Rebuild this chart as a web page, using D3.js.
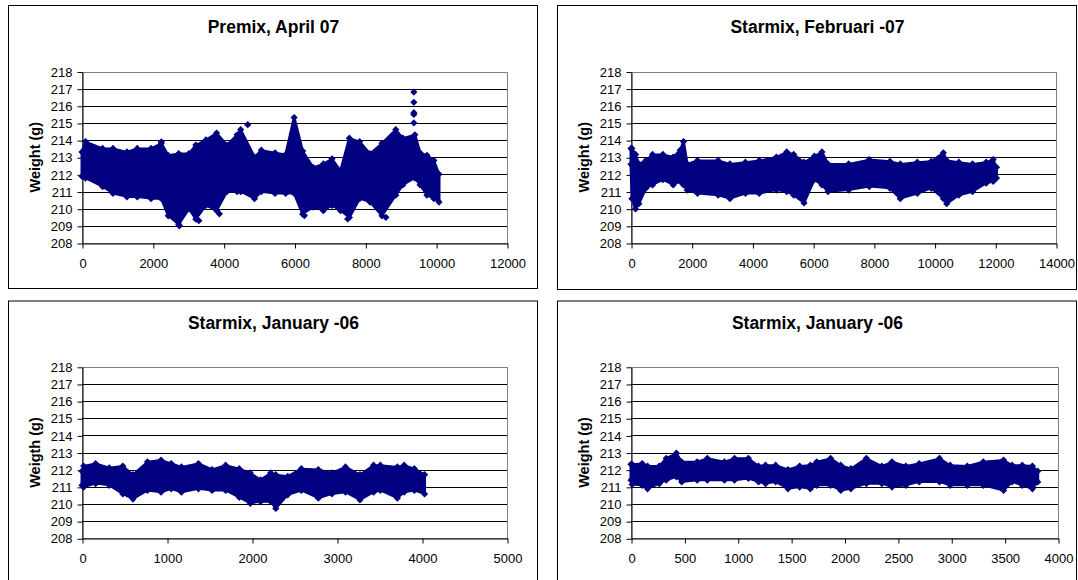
<!DOCTYPE html>
<html>
<head>
<meta charset="utf-8">
<script src="https://cdn.jsdelivr.net/npm/d3@7"></script>
<style>
  html, body { margin: 0; padding: 0; background: #fff; }
  svg { display: block; }
  text { font-family: Arial, "Liberation Sans", sans-serif; }
</style>
</head>
<body>
<svg id="chart" width="1078" height="580"></svg>
<script>
// ---------- DATA ----------
const yTicks = [208, 209, 210, 211, 212, 213, 214, 215, 216, 217, 218];

const titles = ["Premix, April 07", "Starmix, Februari -07", "Starmix, January -06", "Starmix, January -06"];
const yLabels = ["Weight (g)", "Weight (g)", "Weigth (g)", "Weight (g)"];
const xTicks1 = [0, 2000, 4000, 6000, 8000, 10000, 12000];
const xTicks2 = [0, 2000, 4000, 6000, 8000, 10000, 12000, 14000];
const xTicks3 = [0, 1000, 2000, 3000, 4000, 5000];
const xTicks4 = [0, 500, 1000, 1500, 2000, 2500, 3000, 3500, 4000];

// Panel 1: envelope of the scatter cloud (sample index, highest weight, lowest weight)
const p1X    = [0, 100, 580, 875, 1270, 1560, 1950, 2240, 2435, 2730, 3020, 3215, 3500, 3800, 4090, 4380, 4480, 4870, 5065, 5450, 5750, 5990, 6230, 6525, 6815, 7060, 7300, 7550, 7840, 8130, 8470, 8860, 9060, 9400, 9545, 9740, 9935, 10080];
const p1High = [213.4, 214.0, 213.6, 213.6, 213.4, 213.6, 213.6, 213.9, 213.2, 213.3, 213.3, 213.8, 214.1, 214.5, 213.8, 214.4, 214.7, 213.1, 213.5, 213.35, 213.25, 215.4, 213.45, 212.5, 212.7, 213.0, 212.3, 214.2, 214.0, 213.3, 213.9, 214.7, 214.2, 214.4, 213.35, 213.2, 212.9, 212.1];
const p1Low  = [211.8, 211.7, 211.2, 210.8, 210.6, 210.6, 210.5, 210.5, 209.5, 209.0, 209.9, 209.3, 210.1, 209.8, 210.9, 210.9, 210.9, 210.5, 210.9, 210.8, 210.8, 210.8, 209.6, 210.0, 209.8, 210.1, 209.8, 209.4, 210.5, 210.3, 209.5, 210.7, 211.3, 211.7, 211.3, 210.7, 210.5, 210.3];
const p1OutX = [9370, 9370, 9370, 9370, 9370, 4680, 2240, 2750, 3300, 3880, 6280, 7500, 8580];
const p1OutY = [216.8, 216.2, 215.6, 215.5, 215.0, 214.9, 213.9, 209.0, 209.3, 209.7, 209.6, 209.4, 209.5];

// Panel 2
const p2X    = [0, 30, 150, 260, 490, 710, 1050, 1390, 1620, 1730, 1850, 2190, 2870, 3260, 3770, 4225, 4790, 5130, 5360, 5700, 6040, 6290, 6490, 7170, 7850, 8530, 8870, 9430, 9890, 10290, 10400, 10800, 11250, 11700, 11930, 12040];
const p2High = [213.6, 213.6, 213.25, 212.7, 212.9, 213.25, 213.25, 213.1, 213.5, 214.0, 212.7, 212.9, 212.9, 212.7, 212.8, 212.9, 213.1, 213.4, 213.25, 212.8, 213.15, 213.4, 212.7, 212.7, 212.95, 212.85, 212.7, 212.8, 212.85, 213.35, 212.9, 212.8, 212.7, 212.8, 212.95, 212.5];
const p2Low  = [212.5, 210.5, 209.9, 210.2, 211.1, 211.3, 211.6, 211.3, 211.5, 211.3, 211.0, 210.8, 210.7, 210.5, 210.8, 210.8, 211.0, 210.9, 210.7, 210.25, 211.6, 211.3, 210.9, 211.0, 211.2, 211.1, 210.5, 210.8, 211.1, 210.5, 210.2, 210.7, 210.9, 211.4, 211.5, 211.7];

// Panel 3
const p3X    = [0, 20, 160, 320, 480, 600, 770, 930, 1050, 1170, 1370, 1530, 1690, 1850, 1980, 2100, 2220, 2280, 2420, 2580, 2780, 2940, 3100, 3270, 3430, 3510, 3710, 3790, 3910, 4030];
const p3High = [212.0, 212.3, 212.45, 212.2, 212.3, 211.8, 212.55, 212.65, 212.45, 212.25, 212.45, 212.1, 212.35, 212.15, 211.9, 211.5, 211.9, 211.8, 211.7, 212.15, 212.1, 211.9, 212.25, 211.8, 212.35, 212.35, 212.25, 212.35, 212.15, 211.8];
const p3Low  = [211.0, 210.9, 211.1, 211.0, 210.5, 210.2, 210.7, 210.6, 210.8, 210.6, 210.8, 210.7, 210.7, 210.3, 209.95, 210.05, 210.05, 209.65, 210.45, 210.7, 210.25, 210.5, 210.6, 210.15, 210.6, 210.7, 210.25, 210.6, 210.7, 210.5];

// Panel 4
const p4X    = [0, 10, 105, 155, 265, 330, 425, 475, 620, 715, 875, 970, 1100, 1195, 1260, 1355, 1470, 1580, 1680, 1740, 1870, 1965, 2060, 2205, 2350, 2445, 2575, 2700, 2890, 2990, 3150, 3300, 3490, 3570, 3665, 3760, 3810];
const p4High = [212.4, 212.4, 212.45, 212.3, 212.3, 212.75, 213.05, 212.55, 212.55, 212.75, 212.55, 212.75, 212.75, 212.3, 212.35, 212.35, 212.1, 212.3, 212.35, 212.55, 212.75, 212.35, 212.15, 212.75, 212.3, 212.55, 212.3, 212.45, 212.75, 212.35, 212.3, 212.55, 212.65, 212.35, 212.35, 212.3, 212.0];
const p4Low  = [211.3, 211.05, 211.0, 210.8, 211.1, 211.3, 211.5, 211.2, 211.3, 211.3, 211.3, 211.3, 211.4, 211.2, 211.1, 211.2, 210.8, 210.9, 210.8, 211.0, 211.0, 210.7, 210.8, 211.1, 211.1, 210.9, 211.0, 211.2, 211.2, 211.0, 211.0, 211.0, 210.7, 211.2, 211.0, 210.8, 211.2];

// ---------- LAYOUT ----------
const panels = [
  { box: [8, 5, 529, 283],   plot: [82, 71.5, 507, 243],    xDom: [0, 12000], xTicks: xTicks1, X: p1X, H: p1High, L: p1Low, oX: p1OutX, oY: p1OutY },
  { box: [557, 5, 519, 284], plot: [631, 71.5, 1056, 243],  xDom: [0, 14000], xTicks: xTicks2, X: p2X, H: p2High, L: p2Low, oX: [], oY: [] },
  { box: [8, 300.5, 529, 300], plot: [82, 366.8, 507, 538.3], xDom: [0, 5000], xTicks: xTicks3, X: p3X, H: p3High, L: p3Low, oX: [], oY: [] },
  { box: [557, 300.5, 519, 300], plot: [631, 366.8, 1058, 538.3], xDom: [0, 4000], xTicks: xTicks4, X: p4X, H: p4High, L: p4Low, oX: [], oY: [] }
];

const svg = d3.select("#chart");
const navy = "#000080";
const R = 3.6; // half-diagonal of the diamond marker
const diamond = `M0,${-R}L${R},0L0,${R}L${-R},0Z`;

panels.forEach((p, i) => {
  const [bx, by, bw, bh] = p.box;
  const [px0, py0, px1, py1] = p.plot;
  const g = svg.append("g");

  g.append("rect").attr("x", bx + 0.5).attr("y", by + 0.5).attr("width", bw).attr("height", bh)
    .attr("fill", "#fff").attr("stroke", "#000").attr("stroke-width", 1);

  const x = d3.scaleLinear().domain(p.xDom).range([px0, px1]);
  const y = d3.scaleLinear().domain([208, 218]).range([py1, py0]);

  // plot area border (grey)
  g.append("rect").attr("x", px0 + 0.5).attr("y", Math.round(py0) + 0.5)
    .attr("width", px1 - px0).attr("height", Math.round(py1) - Math.round(py0))
    .attr("fill", "none").attr("stroke", "#808080");

  // gridlines
  g.selectAll(".grid").data(yTicks.filter(t => t > 208 && t < 218)).enter().append("line")
    .attr("x1", px0).attr("x2", px1)
    .attr("y1", d => Math.round(y(d)) + 0.5).attr("y2", d => Math.round(y(d)) + 0.5)
    .attr("stroke", "#000").attr("stroke-width", 1);

  // title
  g.append("text").attr("x", bx + bw / 2 + 1).attr("y", by + 28)
    .attr("text-anchor", "middle").attr("font-size", 17.5).attr("font-weight", "bold")
    .text(titles[i]);

  // y label
  const cy = (py0 + py1) / 2;
  g.append("text").attr("transform", `translate(${px0 - 42},${cy}) rotate(-90)`)
    .attr("text-anchor", "middle").attr("font-size", 14.5).attr("font-weight", "bold")
    .text(yLabels[i]);

  // Y axis
  const yAxis = d3.axisLeft(y).tickValues(yTicks).tickSize(5).tickSizeOuter(0).tickPadding(5).tickFormat(d3.format("d"));
  const ya = g.append("g").attr("transform", `translate(${px0 + 0.5},0.5)`).call(yAxis);
  ya.select(".domain").attr("stroke", "#000");
  ya.selectAll("text").attr("font-size", 13).attr("fill", "#000").attr("font-family", "Arial, 'Liberation Sans', sans-serif");

  // X axis
  const xAxis = d3.axisBottom(x).tickValues(p.xTicks).tickSize(5).tickSizeOuter(0).tickPadding(10).tickFormat(d3.format("d"));
  const xa = g.append("g").attr("transform", `translate(0.5,${Math.round(py1) + 0.5})`).call(xAxis);
  xa.select(".domain").attr("stroke", "#000");
  xa.selectAll("text").attr("font-size", 13).attr("fill", "#000").attr("font-family", "Arial, 'Liberation Sans', sans-serif");

  // data cloud
  const rows = p.X.map((xv, k) => ({ x: xv, hi: p.H[k], lo: p.L[k] }));
  const area = d3.area().x(d => x(d.x)).y0(d => y(d.lo) - 2).y1(d => y(d.hi) + 2).curve(d3.curveLinear);
  g.append("path").datum(rows).attr("d", area).attr("fill", navy).attr("stroke", navy).attr("stroke-width", 3).attr("stroke-linejoin", "round");

  g.selectAll(".hi").data(rows).enter().append("path")
    .attr("d", diamond).attr("fill", navy)
    .attr("transform", d => `translate(${x(d.x)},${y(d.hi) + 1.5})`);
  g.selectAll(".lo").data(rows).enter().append("path")
    .attr("d", diamond).attr("fill", navy)
    .attr("transform", d => `translate(${x(d.x)},${y(d.lo) - 1.5})`);

  const outs = p.oX.map((xv, k) => ({ x: xv, v: p.oY[k] }));
  g.selectAll(".out").data(outs).enter().append("path")
    .attr("d", diamond).attr("fill", navy)
    .attr("transform", d => `translate(${x(d.x)},${y(d.v)})`);
});
</script>
</body>
</html>
